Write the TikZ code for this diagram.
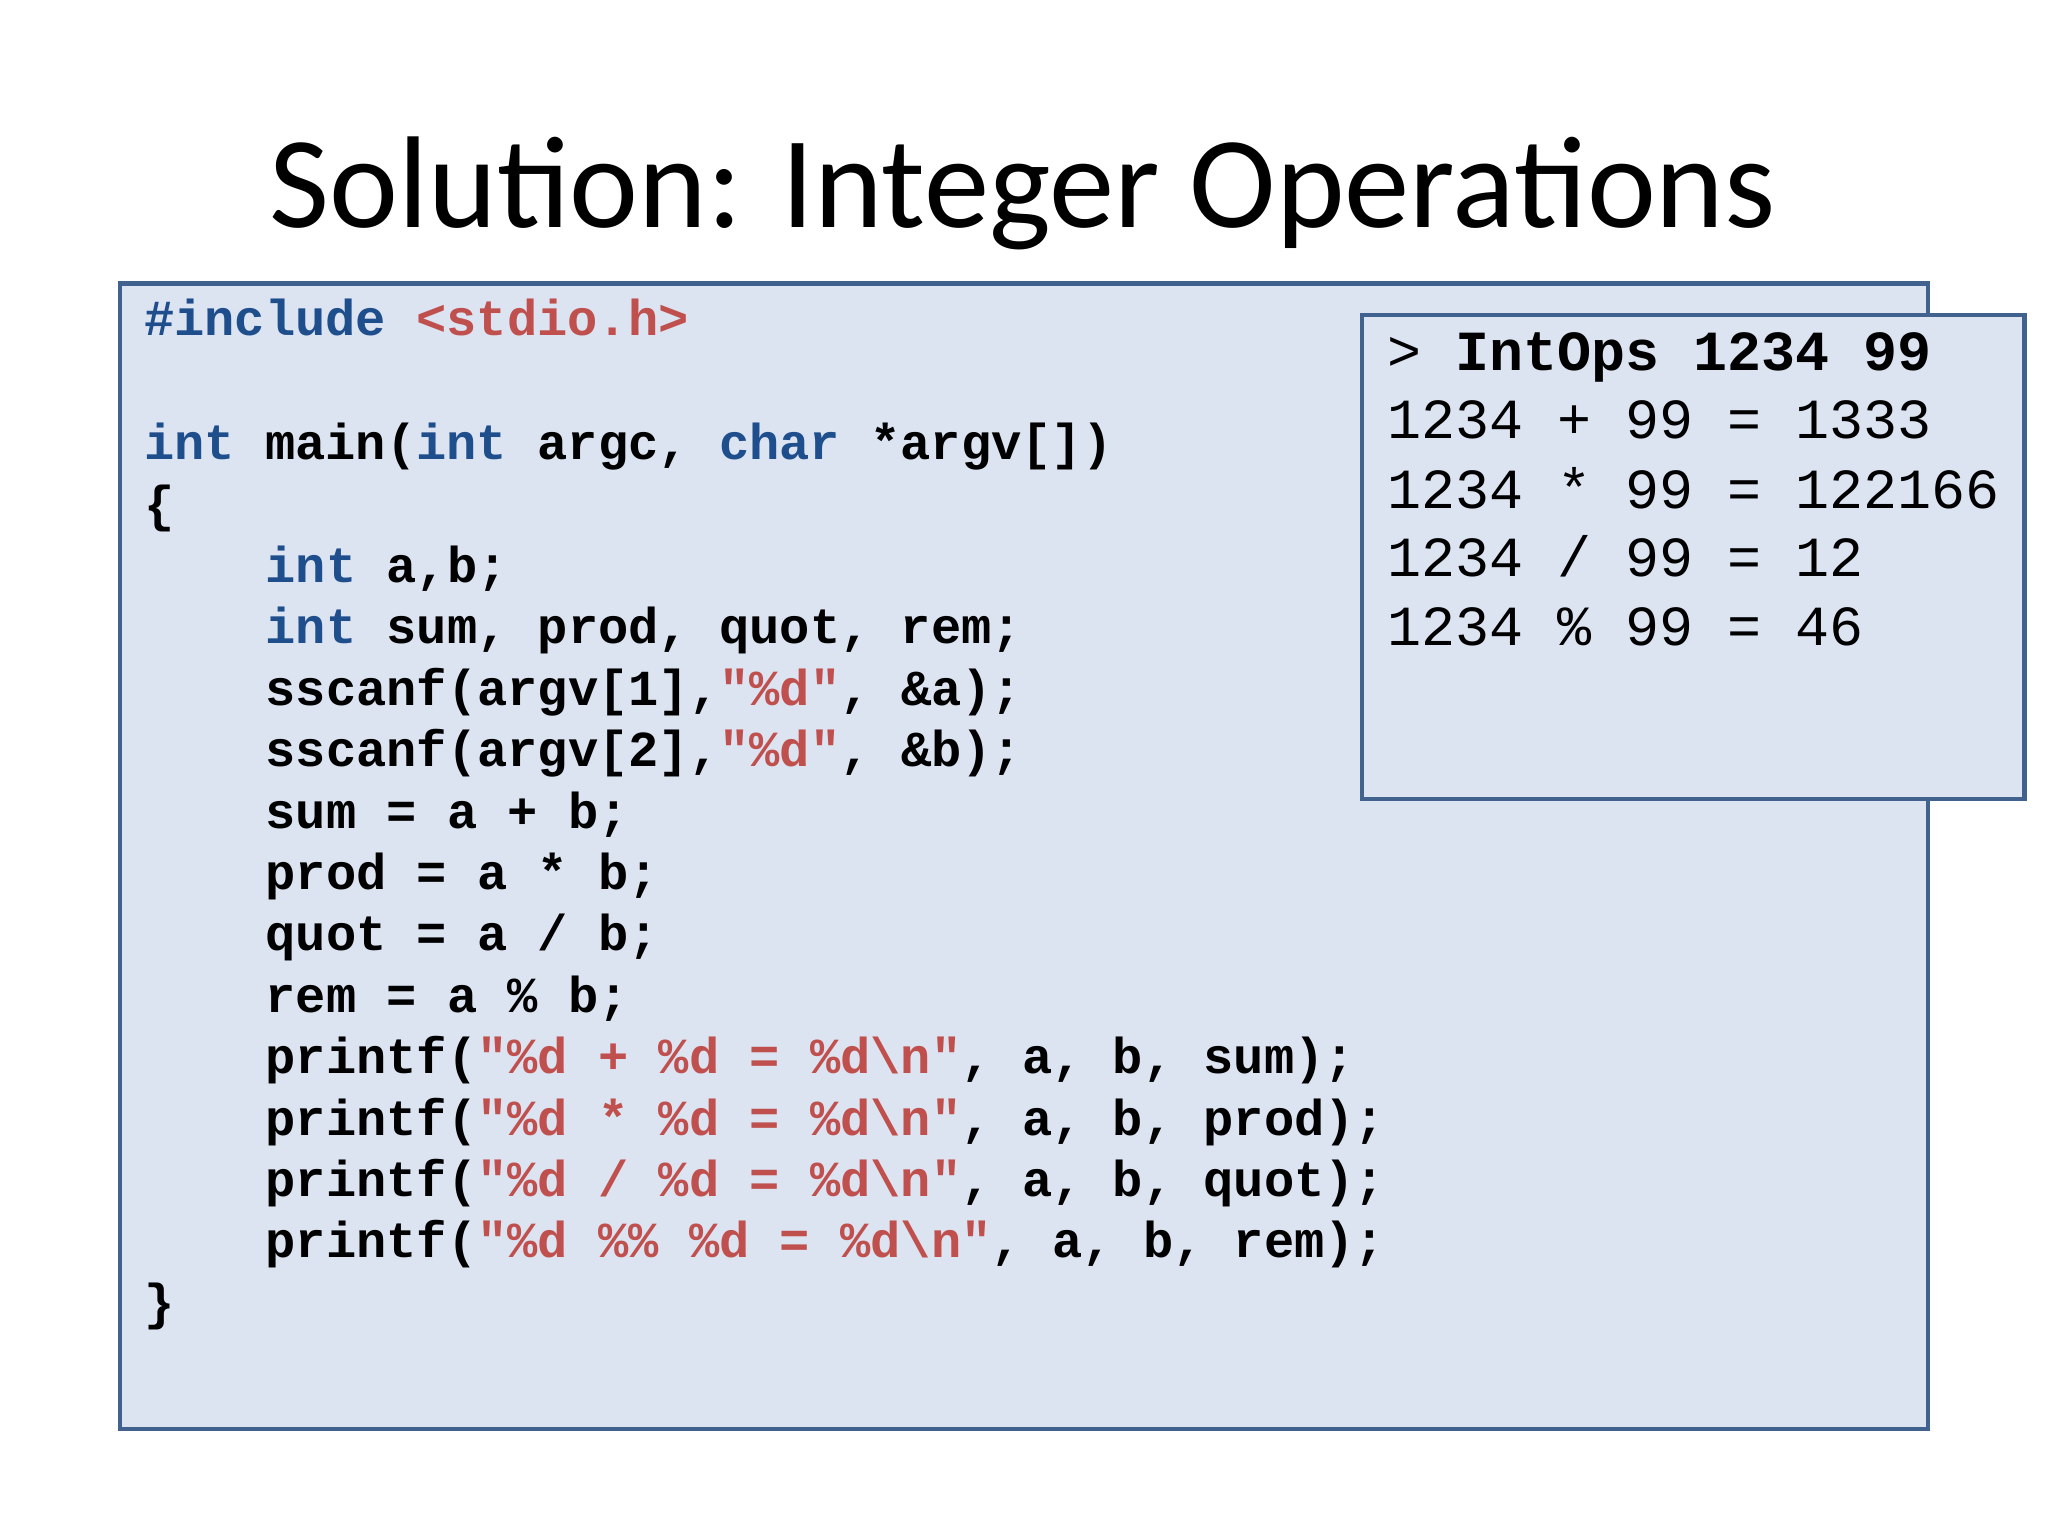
\documentclass[tikz,border=0pt]{standalone}
\usepackage{fontspec}
\setmainfont{Carlito}
\setmonofont{Liberation Mono}
\definecolor{kw}{HTML}{1F4E8C}
\definecolor{st}{HTML}{C0504D}
\definecolor{bx}{HTML}{DCE3F1}
\definecolor{bd}{HTML}{41618F}
\newcommand{\K}[1]{\textcolor{kw}{#1}}
\newcommand{\Sx}[1]{\textcolor{st}{#1}}
\begin{document}
\begin{tikzpicture}[x=0.5pt,y=-0.5pt,
  code/.style={anchor=base west,inner sep=0pt,font=\ttfamily\bfseries\fontsize{19.3}{23.5}\selectfont},
  term/.style={anchor=base west,inner sep=0pt,font=\ttfamily\fontsize{21.7}{26}\selectfont},
  panel/.style={draw=bd,line width=1.6pt,fill=bx}]
\useasboundingbox (0,0) rectangle (1568,1176);
\node[anchor=center,inner sep=0pt,font=\fontsize{50}{60}\selectfont] (title) at (783,148) {Solution: Integer Operations};
\draw[panel] (92,217) rectangle (1476,1094);
\node[code] (l0) at (110,257) {\K{\#include} \Sx{<stdio.h>}};
\node[code] (l1) at (110,352) {\K{int} main(\K{int} argc, \K{char} *argv[])};
\node[code] (l2) at (110,399) {\{};
\node[code] (l3) at (203,446) {\K{int} a,b;};
\node[code] (l4) at (203,493) {\K{int} sum, prod, quot, rem;};
\node[code] (l5) at (203,540) {sscanf(argv[1],\Sx{"\%d"}, \&a);};
\node[code] (l6) at (203,587) {sscanf(argv[2],\Sx{"\%d"}, \&b);};
\node[code] (l7) at (203,634) {sum = a + b;};
\node[code] (l8) at (203,681) {prod = a * b;};
\node[code] (l9) at (203,728) {quot = a / b;};
\node[code] (l10) at (203,775) {rem = a \% b;};
\node[code] (l11) at (203,822) {printf(\Sx{"\%d + \%d = \%d\textbackslash n"}, a, b, sum);};
\node[code] (l12) at (203,869) {printf(\Sx{"\%d * \%d = \%d\textbackslash n"}, a, b, prod);};
\node[code] (l13) at (203,916) {printf(\Sx{"\%d / \%d = \%d\textbackslash n"}, a, b, quot);};
\node[code] (l14) at (203,963) {printf(\Sx{"\%d \%\% \%d = \%d\textbackslash n"}, a, b, rem);};
\node[code] (l15) at (110,1010) {\}};
\draw[panel] (1043,241) rectangle (1550,612);
\node[term] (t0) at (1062,284) {> \textbf{IntOps 1234 99}};
\node[term] (t1) at (1062,336) {1234 + 99 = 1333};
\node[term] (t2) at (1062,389) {1234 * 99 = 122166};
\node[term] (t3) at (1062,441) {1234 / 99 = 12};
\node[term] (t4) at (1062,494) {1234 \% 99 = 46};
\end{tikzpicture}
\end{document}
